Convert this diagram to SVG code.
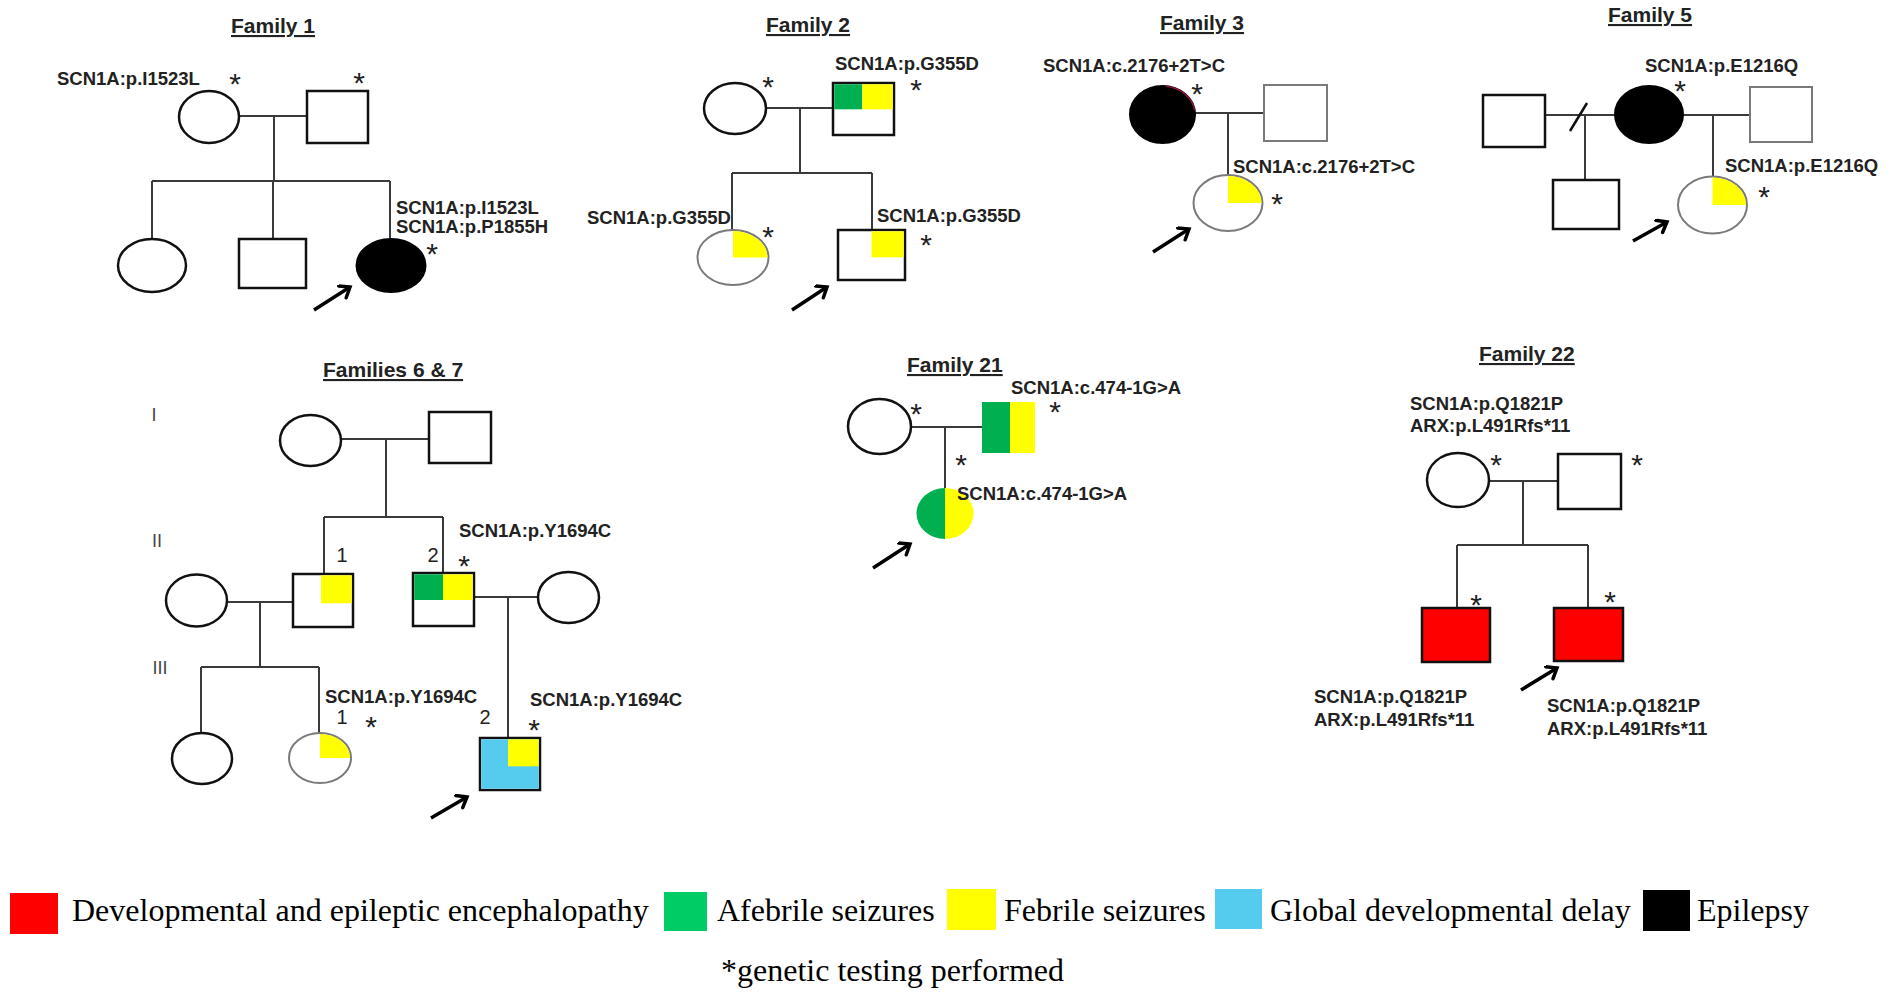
<svg xmlns="http://www.w3.org/2000/svg" width="1897" height="993" viewBox="0 0 1897 993">
<defs>
<style>
.bg{fill:#ffffff}
.ln{stroke:#3a3a3a;stroke-width:2;fill:none}
.sh{fill:#ffffff;stroke:#111;stroke-width:2.5}
.shg{fill:#ffffff;stroke:#7a7a7a;stroke-width:2}
.blk{fill:#000;stroke:#000;stroke-width:2}
.y{fill:#ffff00}
.g{fill:#00b050}
.b{fill:#55ccee}
.r{fill:#ff0000}
.title{font-family:"Liberation Sans",Arial,sans-serif;font-weight:bold;font-size:21px;fill:#222;text-decoration:underline}
.lab{font-family:"Liberation Sans",Arial,sans-serif;font-weight:bold;font-size:18.5px;fill:#222}
.ast{font-family:"Liberation Sans",Arial,sans-serif;font-size:30px;fill:#222;text-anchor:middle}
.num{font-family:"Liberation Sans",Arial,sans-serif;font-size:20px;fill:#222;text-anchor:middle}
.gen{font-family:"Liberation Sans",Arial,sans-serif;font-size:18px;fill:#444;text-anchor:middle}
.leg{font-family:"Liberation Serif","Times New Roman",serif;font-size:32px;fill:#000}
.arr{stroke:#000;stroke-width:3.5;fill:none;marker-end:url(#ah)}
</style>
<marker id="ah" markerUnits="userSpaceOnUse" markerWidth="20" markerHeight="20" refX="12" refY="8" orient="auto">
<path d="M3,1 L12,8 L3,15" fill="none" stroke="#000" stroke-width="3.5" stroke-linecap="round"/>
</marker>
</defs>
<rect class="bg" x="0" y="0" width="1897" height="993"/>

<g id="connectors">
<!-- Family 1 -->
<path class="ln" d="M239,116 H307 M274,116 V181 M152,181 H390 M152,181 V239 M273,181 V239 M390,181 V239"/>
<!-- Family 2 -->
<path class="ln" d="M766,108 H833 M800,108 V173 M732,173 H872 M732,173 V230 M872,173 V230"/>
<!-- Family 3 -->
<path class="ln" d="M1195,113 H1264 M1228,113 V175"/>
<!-- Family 5 -->
<path class="ln" d="M1545,115 H1615 M1585,115 V180 M1683,115 H1750 M1713,115 V177"/>
<path d="M1570,131 L1587,103" stroke="#111" stroke-width="2.5"/>
<!-- Families 6 & 7 -->
<path class="ln" d="M341,439 H429 M386,439 V517 M324,517 H443 M324,517 V574 M443,517 V573 M227,602 H293 M260,602 V667 M201,667 H319 M201,667 V733 M319,667 V733 M474,597 H538 M508,597 V738"/>
<!-- Family 21 -->
<path class="ln" d="M911,427 H982 M945,427 V488"/>
<!-- Family 22 -->
<path class="ln" d="M1489,481 H1558 M1523,481 V545 M1457,545 H1588 M1457,545 V608 M1588,545 V608"/>
<!-- proband arrows -->
<line class="arr" x1="314" y1="310" x2="350" y2="287"/>
<line class="arr" x1="792" y1="310" x2="827" y2="287"/>
<line class="arr" x1="1153" y1="252" x2="1189" y2="229"/>
<line class="arr" x1="1633" y1="241" x2="1667" y2="222"/>
<line class="arr" x1="431" y1="818" x2="467" y2="797"/>
<line class="arr" x1="873" y1="568" x2="910" y2="544"/>
<line class="arr" x1="1521" y1="690" x2="1557" y2="668"/>
</g>

<!-- ===== Family 1 ===== -->
<g id="f1-title"><text class="title" x="231" y="33">Family 1</text></g>
<g id="f1-mother">
<ellipse class="sh" cx="209" cy="117" rx="30" ry="26"/>
<text class="lab" x="57" y="85">SCN1A:p.I1523L</text>
<text class="ast" x="235" y="94">*</text>
</g>
<g id="f1-father">
<rect class="sh" x="307" y="91" width="61" height="52"/>
<text class="ast" x="359" y="93">*</text>
</g>
<g id="f1-child1"><ellipse class="sh" cx="152" cy="265.5" rx="34" ry="26.5"/></g>
<g id="f1-child2"><rect class="sh" x="239" y="239" width="67" height="49"/></g>
<g id="f1-proband">
<ellipse class="blk" cx="391" cy="265.5" rx="34.5" ry="26.5"/>
<text class="lab" x="396" y="214">SCN1A:p.I1523L</text>
<text class="lab" x="396" y="233">SCN1A:p.P1855H</text>
<text class="ast" x="432" y="264">*</text>
</g>

<!-- ===== Family 2 ===== -->
<g id="f2-title"><text class="title" x="766" y="32">Family 2</text></g>
<g id="f2-mother">
<ellipse class="sh" cx="735" cy="108.5" rx="31" ry="25.5"/>
<text class="ast" x="768" y="97">*</text>
</g>
<g id="f2-father">
<rect class="sh" x="833" y="83" width="61" height="52"/>
<rect class="g" x="834.3" y="84.3" width="28" height="25"/>
<rect class="y" x="862.3" y="84.3" width="30.4" height="25"/>
<text class="lab" x="835" y="70">SCN1A:p.G355D</text>
<text class="ast" x="916" y="100">*</text>
</g>
<g id="f2-daughter">
<ellipse class="shg" cx="733" cy="257.5" rx="35.5" ry="27.5"/>
<path class="y" d="M733,257.5 V231 A34.5,26.5 0 0 1 767.5,257.5 Z"/>
<text class="lab" x="587" y="224">SCN1A:p.G355D</text>
<text class="ast" x="768" y="247">*</text>
</g>
<g id="f2-proband">
<rect class="sh" x="838" y="230" width="67" height="50"/>
<rect class="y" x="871.5" y="231.3" width="32.2" height="26"/>
<text class="lab" x="877" y="222">SCN1A:p.G355D</text>
<text class="ast" x="926" y="255">*</text>
</g>

<!-- ===== Family 3 ===== -->
<g id="f3-title"><text class="title" x="1160" y="30">Family 3</text></g>
<g id="f3-mother">
<ellipse class="blk" cx="1162.5" cy="114.5" rx="32.5" ry="28.5"/>
<path d="M1166,86.3 A32.5,28.5 0 0 1 1194.5,110" fill="none" stroke="#8a1538" stroke-width="1.5"/>
<text class="lab" x="1043" y="72">SCN1A:c.2176+2T&gt;C</text>
<text class="ast" x="1197" y="104">*</text>
</g>
<g id="f3-father"><rect class="shg" x="1264" y="85" width="63" height="56"/></g>
<g id="f3-proband">
<ellipse class="shg" cx="1228" cy="203" rx="34.5" ry="28"/>
<path class="y" d="M1228,203 V176 A33.5,27 0 0 1 1261.5,203 Z"/>
<text class="lab" x="1233" y="173">SCN1A:c.2176+2T&gt;C</text>
<text class="ast" x="1277" y="214">*</text>
</g>

<!-- ===== Family 5 ===== -->
<g id="f5-title"><text class="title" x="1608" y="22">Family 5</text></g>
<g id="f5-expartner"><rect class="sh" x="1483" y="95" width="62" height="52"/></g>
<g id="f5-halfsib"><rect class="sh" x="1553" y="180" width="66" height="49"/></g>
<g id="f5-mother">
<ellipse class="blk" cx="1649" cy="114.5" rx="34" ry="28.5"/>
<text class="lab" x="1645" y="72">SCN1A:p.E1216Q</text>
<text class="ast" x="1680" y="101">*</text>
</g>
<g id="f5-father"><rect class="shg" x="1750" y="87" width="62" height="55"/></g>
<g id="f5-proband">
<ellipse class="shg" cx="1712.5" cy="205" rx="34.5" ry="28.5"/>
<path class="y" d="M1712.5,205 V177.5 A33.5,27.5 0 0 1 1746,205 Z"/>
<text class="lab" x="1725" y="172">SCN1A:p.E1216Q</text>
<text class="ast" x="1764" y="207">*</text>
</g>

<!-- ===== Families 6 & 7 ===== -->
<g id="f67-title"><text class="title" x="323" y="377">Families 6 &amp; 7</text></g>
<g id="f67-generations">
<text class="gen" x="154" y="421">I</text>
<text class="gen" x="157" y="547">II</text>
<text class="gen" x="160" y="674">III</text>
</g>
<g id="f67-I1"><ellipse class="sh" cx="310.5" cy="440.5" rx="30.5" ry="25.5"/></g>
<g id="f67-I2"><rect class="sh" x="429" y="412" width="62" height="51"/></g>
<g id="f67-II-wife1"><ellipse class="sh" cx="196.5" cy="600.5" rx="30.5" ry="26"/></g>
<g id="f67-II1">
<rect class="sh" x="293" y="574" width="60" height="53"/>
<rect class="y" x="321" y="575.3" width="30.7" height="28"/>
<text class="num" x="342" y="562">1</text>
</g>
<g id="f67-II2">
<rect class="sh" x="413" y="573" width="61" height="53"/>
<rect class="g" x="414.3" y="574.3" width="28.7" height="25.7"/>
<rect class="y" x="443" y="574.3" width="29.7" height="25.7"/>
<text class="num" x="433" y="562">2</text>
<text class="ast" x="464" y="576">*</text>
<text class="lab" x="459" y="537">SCN1A:p.Y1694C</text>
</g>
<g id="f67-II-wife2"><ellipse class="sh" cx="568.5" cy="597.5" rx="30.5" ry="25.5"/></g>
<g id="f67-III0"><ellipse class="sh" cx="202" cy="758.5" rx="30" ry="25.5"/></g>
<g id="f67-III1">
<ellipse class="shg" cx="320" cy="758" rx="31" ry="25"/>
<path class="y" d="M320,758 V734 A30,24 0 0 1 350,758 Z"/>
<text class="lab" x="325" y="703">SCN1A:p.Y1694C</text>
<text class="num" x="342" y="724">1</text>
<text class="ast" x="371" y="737">*</text>
</g>
<g id="f67-III2">
<rect class="sh" x="480" y="738" width="60" height="52"/>
<rect class="b" x="481.3" y="739.3" width="57.4" height="49.4"/>
<rect class="y" x="508" y="739.3" width="30.7" height="27"/>
<text class="num" x="485" y="724">2</text>
<text class="ast" x="534" y="740">*</text>
<text class="lab" x="530" y="706">SCN1A:p.Y1694C</text>
</g>

<!-- ===== Family 21 ===== -->
<g id="f21-title"><text class="title" x="907" y="372">Family 21</text></g>
<g id="f21-mother">
<ellipse class="sh" cx="879.5" cy="426.5" rx="31.5" ry="27.5"/>
<text class="ast" x="916" y="424">*</text>
</g>
<g id="f21-father">
<rect class="g" x="982" y="402" width="28" height="51"/>
<rect class="y" x="1010" y="402" width="25" height="51"/>
<text class="lab" x="1011" y="394">SCN1A:c.474-1G&gt;A</text>
<text class="ast" x="1055" y="422">*</text>
</g>
<g id="f21-proband">
<path class="g" d="M945,488 A28.5,25.5 0 0 0 945,539 Z"/>
<path class="y" d="M945,488 A28.5,25.5 0 0 1 945,539 Z"/>
<text class="ast" x="961" y="475">*</text>
<text class="lab" x="957" y="500">SCN1A:c.474-1G&gt;A</text>
</g>

<!-- ===== Family 22 ===== -->
<g id="f22-title"><text class="title" x="1479" y="361">Family 22</text></g>
<g id="f22-mother">
<ellipse class="sh" cx="1458" cy="480" rx="31" ry="27"/>
<text class="lab" x="1410" y="410">SCN1A:p.Q1821P</text>
<text class="lab" x="1410" y="432">ARX:p.L491Rfs*11</text>
<text class="ast" x="1496" y="475">*</text>
</g>
<g id="f22-father">
<rect class="sh" x="1558" y="454" width="63" height="55"/>
<text class="ast" x="1637" y="475">*</text>
</g>
<g id="f22-sib">
<rect class="r" x="1422" y="608" width="68" height="54" stroke="#111" stroke-width="2.5"/>
<text class="ast" x="1476" y="615">*</text>
<text class="lab" x="1314" y="703">SCN1A:p.Q1821P</text>
<text class="lab" x="1314" y="726">ARX:p.L491Rfs*11</text>
</g>
<g id="f22-proband">
<rect class="r" x="1554" y="608" width="69" height="53" stroke="#111" stroke-width="2.5"/>
<text class="ast" x="1610" y="612">*</text>
<text class="lab" x="1547" y="712">SCN1A:p.Q1821P</text>
<text class="lab" x="1547" y="735">ARX:p.L491Rfs*11</text>
</g>

<!-- ===== Legend ===== -->
<g id="legend">
<rect x="10" y="893" width="48" height="41" fill="#ff0000"/>
<text class="leg" x="72" y="921">Developmental and epileptic encephalopathy</text>
<rect x="664" y="892" width="43" height="39" fill="#00cc66"/>
<text class="leg" x="717" y="921">Afebrile seizures</text>
<rect x="947" y="889" width="49" height="41" fill="#ffff00"/>
<text class="leg" x="1004" y="921">Febrile seizures</text>
<rect x="1215" y="889" width="47" height="40" fill="#55ccee"/>
<text class="leg" x="1270" y="921">Global developmental delay</text>
<rect x="1643" y="890" width="47" height="41" fill="#000000"/>
<text class="leg" x="1697" y="921">Epilepsy</text>
<text class="leg" x="721" y="981">*genetic testing performed</text>
</g>
</svg>
